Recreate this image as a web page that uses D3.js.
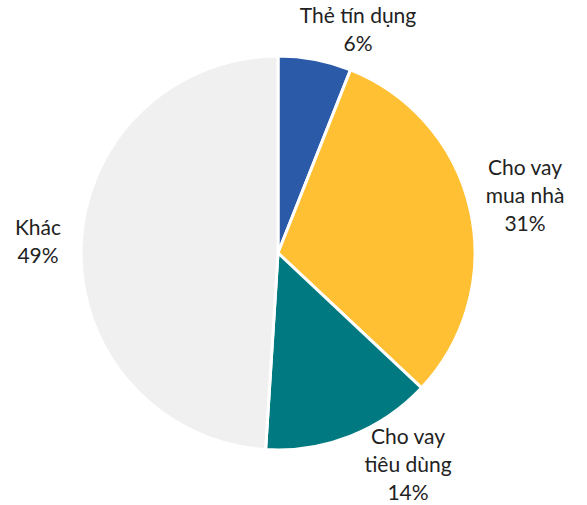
<!DOCTYPE html>
<html><head><meta charset="utf-8">
<script src="https://cdn.jsdelivr.net/npm/d3@7"></script>
<style>html,body{margin:0;padding:0;background:#fff}</style>
</head><body>
<svg id="c" width="587" height="505"></svg>
<script>
const categories = ["Thẻ tín dụng", "Cho vay mua nhà", "Cho vay tiêu dùng", "Khác"];
const values = [6, 31, 14, 49];
const labelLines = [["Thẻ tín dụng", "6%"], ["Cho vay", "mua nhà", "31%"], ["Cho vay", "tiêu dùng", "14%"], ["Khác", "49%"]];
const colors = ["#2B5BA8", "#FFC133", "#007A80", "#F0F0F0"];
// label block centres (layout)
const labelPos = [[358, 30], [525, 196], [408, 465], [38, 242]];

const svg = d3.select("#c");
const cx = 278, cy = 253, R = 197;
const data = categories.map((c, i) => ({cat: c, value: values[i], i}));
const pie = d3.pie().value(d => d.value).sort(null);
const arc = d3.arc().innerRadius(0).outerRadius(R);
const g = svg.append("g").attr("transform", `translate(${cx},${cy})`);
g.selectAll("path").data(pie(data)).join("path")
  .attr("d", arc)
  .attr("fill", d => colors[d.data.i])
  .attr("stroke", "#fff")
  .attr("stroke-width", 3)
  .attr("stroke-linejoin", "round");

const lh = 28;
data.forEach((d, i) => {
  const lines = labelLines[i];
  const [x, y] = labelPos[i];
  const t = svg.append("text")
    .attr("text-anchor", "middle")
    .attr("font-family", "Lato, 'Open Sans', sans-serif")
    .attr("font-size", 21)
    .attr("fill", "#222");
  lines.forEach((l, k) => {
    t.append("tspan").attr("x", x)
      .attr("y", y + (k - (lines.length - 1) / 2) * lh)
      .attr("dy", "0.35em").text(l);
  });
});
</script>
</body></html>
